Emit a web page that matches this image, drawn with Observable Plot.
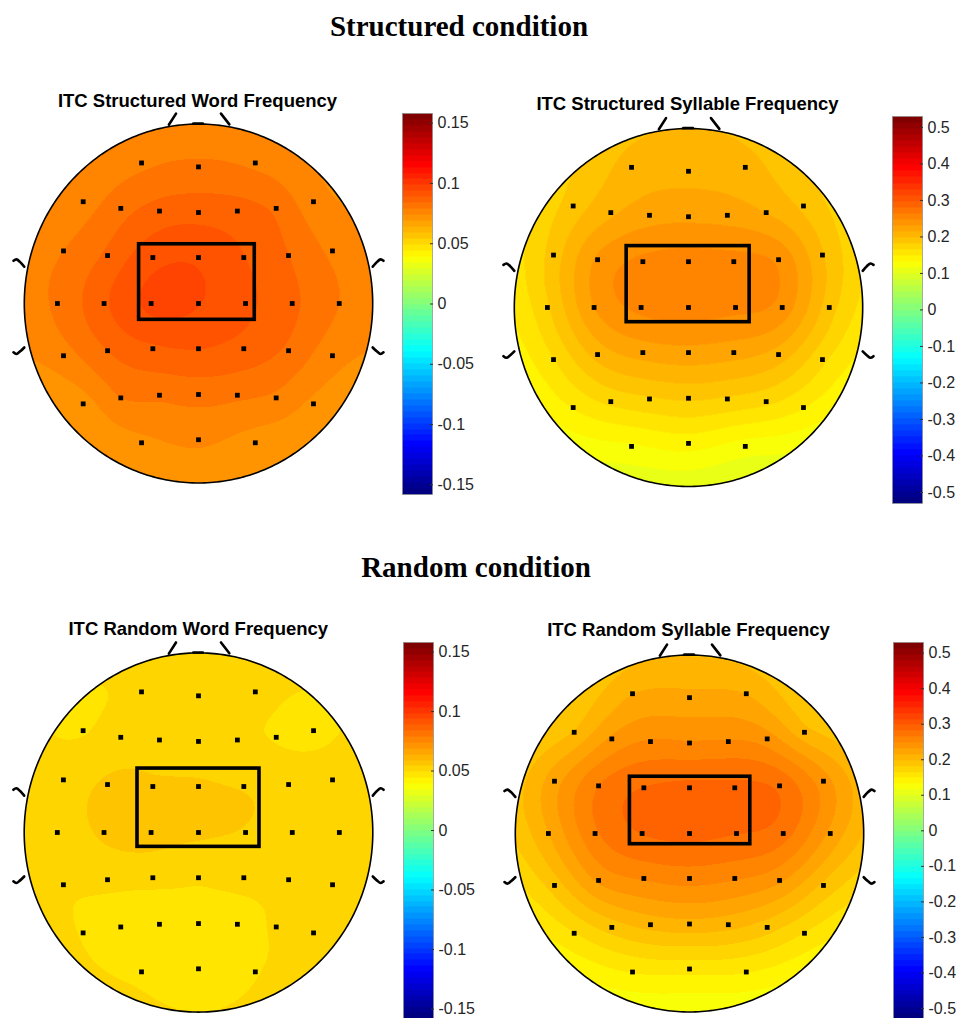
<!DOCTYPE html>
<html><head><meta charset="utf-8">
<script src="https://cdn.jsdelivr.net/npm/d3@7"></script>
<script src="https://cdn.jsdelivr.net/npm/@observablehq/plot@0.6"></script>
<style>
html,body{margin:0;padding:0;background:#fff;overflow:hidden;}
#root{position:relative;width:958px;height:1018px;overflow:hidden;background:#fff;}
.sect{position:absolute;font-family:"Liberation Serif","Times New Roman",serif;font-weight:bold;font-size:29px;line-height:29px;white-space:nowrap;transform:translateX(-50%);color:#000;}
.ptitle{position:absolute;font-family:"Liberation Sans",Arial,sans-serif;font-weight:bold;font-size:18.5px;line-height:18.5px;white-space:nowrap;transform:translateX(-50%);color:#000;}
</style></head><body><div id="root"></div>
<script>
// ---------------- DATA ----------------
const sectionTitles = ["Structured condition", "Random condition"];
const panelTitles = ["ITC Structured Word Frequency", "ITC Structured Syllable Frequency",
                     "ITC Random Word Frequency", "ITC Random Syllable Frequency"];
// electrode positions (head radius = 1, nose up)
const elecX = [
 -0.327, 0, 0.326,
 -0.662, -0.446, -0.224, 0, 0.223, 0.446, 0.660,
 -0.775, -0.522, -0.262, 0, 0.260, 0.517, 0.769,
 -0.810, -0.542, -0.272, 0, 0.270, 0.538, 0.808,
 -0.775, -0.522, -0.262, 0, 0.260, 0.517, 0.769,
 -0.662, -0.446, -0.224, 0, 0.223, 0.446, 0.660,
 -0.327, 0, 0.326];
const elecY = [
 0.783, 0.761, 0.783,
 0.567, 0.530, 0.515, 0.507, 0.515, 0.530, 0.567,
 0.293, 0.267, 0.256, 0.256, 0.256, 0.267, 0.293,
 0, 0, 0, 0, 0, 0, 0,
 -0.291, -0.263, -0.252, -0.252, -0.252, -0.263, -0.291,
 -0.559, -0.526, -0.511, -0.507, -0.511, -0.526, -0.559,
 -0.776, -0.759, -0.776];
// ITC values at electrodes (estimated from colours)
const itcStructuredWord = [
 0.078, 0.080, 0.078,
 0.077, 0.082, 0.086, 0.087, 0.086, 0.083, 0.076,
 0.079, 0.085, 0.092, 0.093, 0.089, 0.084, 0.078,
 0.080, 0.088, 0.095, 0.094, 0.090, 0.085, 0.079,
 0.077, 0.084, 0.088, 0.089, 0.087, 0.083, 0.076,
 0.072, 0.079, 0.080, 0.081, 0.080, 0.078, 0.073,
 0.073, 0.075, 0.072];
const itcStructuredSyllable = [
 0.205, 0.210, 0.205,
 0.190, 0.212, 0.225, 0.228, 0.225, 0.215, 0.195,
 0.190, 0.235, 0.252, 0.256, 0.254, 0.245, 0.200,
 0.180, 0.232, 0.252, 0.256, 0.252, 0.242, 0.190,
 0.165, 0.205, 0.222, 0.226, 0.222, 0.208, 0.170,
 0.150, 0.170, 0.180, 0.185, 0.180, 0.170, 0.150,
 0.130, 0.140, 0.125];
const itcRandomWord = [
 0.050, 0.051, 0.052,
 0.049, 0.052, 0.052, 0.051, 0.050, 0.049, 0.047,
 0.052, 0.055, 0.055, 0.055, 0.054, 0.053, 0.054,
 0.052, 0.055, 0.056, 0.055, 0.054, 0.052, 0.051,
 0.050, 0.051, 0.051, 0.050, 0.051, 0.050, 0.050,
 0.049, 0.046, 0.046, 0.048, 0.047, 0.050, 0.050,
 0.048, 0.046, 0.049];
const itcRandomSyllable = [
 0.215, 0.220, 0.215,
 0.200, 0.235, 0.250, 0.250, 0.250, 0.240, 0.205,
 0.225, 0.265, 0.282, 0.286, 0.286, 0.278, 0.240,
 0.215, 0.262, 0.282, 0.286, 0.282, 0.272, 0.228,
 0.190, 0.235, 0.250, 0.255, 0.250, 0.235, 0.195,
 0.165, 0.190, 0.205, 0.210, 0.205, 0.190, 0.165,
 0.150, 0.155, 0.150];
const panelValues = [itcStructuredWord, itcStructuredSyllable, itcRandomWord, itcRandomSyllable];
// colour limits per panel
const colorLimits = [0.158, 0.53, 0.158, 0.53];
const ticksWord = [-0.15, -0.1, -0.05, 0, 0.05, 0.1, 0.15];
const ticksSyllable = [-0.5, -0.4, -0.3, -0.2, -0.1, 0, 0.1, 0.2, 0.3, 0.4, 0.5];
const panelTicks = [ticksWord, ticksSyllable, ticksWord, ticksSyllable];
// region of interest rectangle per panel
const roiX1 = [-0.341, -0.355, -0.350, -0.342];
const roiX2 = [0.323, 0.351, 0.350, 0.349];
const roiY1 = [-0.091, -0.082, -0.080, -0.060];
const roiY2 = [0.330, 0.343, 0.356, 0.318];
// head decorations (head radius units)
const noseSegments = [
  {x: -0.129, y: 1.058, s: "l"}, {x: -0.170, y: 0.996, s: "l"},
  {x: 0.129, y: 1.058, s: "r"}, {x: 0.177, y: 0.998, s: "r"},
  {x: -0.03, y: 1.002, s: "m"}, {x: 0.025, y: 1.002, s: "m"}];
const earSegments = [
  {x: -1.062, y: 0.238, s: "lu"}, {x: -1.045, y: 0.246, s: "lu"}, {x: -1.025, y: 0.232, s: "lu"}, {x: -1.0, y: 0.205, s: "lu"},
  {x: -1.062, y: -0.272, s: "ll"}, {x: -1.045, y: -0.281, s: "ll"}, {x: -1.025, y: -0.268, s: "ll"}, {x: -1.0, y: -0.245, s: "ll"},
  {x: 1.062, y: 0.238, s: "ru"}, {x: 1.045, y: 0.246, s: "ru"}, {x: 1.025, y: 0.232, s: "ru"}, {x: 1.0, y: 0.205, s: "ru"},
  {x: 1.062, y: -0.272, s: "rl"}, {x: 1.045, y: -0.281, s: "rl"}, {x: 1.025, y: -0.268, s: "rl"}, {x: 1.0, y: -0.245, s: "rl"}];

// ---------------- LAYOUT ----------------
const panelLayout = [
  {cx: 197.5, cy: 302.8, rx: 174.2, ry: 179.5, titleBase: 107.3},
  {cx: 687.5, cy: 306.7, rx: 174.2, ry: 179.0, titleBase: 111.0},
  {cx: 198.3, cy: 832.3, rx: 174.3, ry: 179.6, titleBase: 636.0},
  {cx: 688.5, cy: 833.3, rx: 174.2, ry: 178.5, titleBase: 636.7}];
const barLayout = [
  {x: 401.7, y0: 303.15, k: 1205.7},
  {x: 891.7, y0: 309.2, k: 365},
  {x: 402.7, y0: 830.2, k: 1190},
  {x: 892.7, y0: 830.35, k: 355.3}];
const sectionLayout = [{x: 459, base: 36}, {x: 476, base: 577}];

// ---------------- HELPERS ----------------
const jet = t => {
  const c = v => Math.round(255 * Math.max(0, Math.min(1, v)));
  return `rgb(${c(1.5 - Math.abs(4 * t - 3))},${c(1.5 - Math.abs(4 * t - 2))},${c(1.5 - Math.abs(4 * t - 1))})`;
};
const jet64 = d3.range(64).map(i => jet(i / 63));
const colorOptions = m => ({type: "quantize", domain: [-m, m], range: jet64});

function solve(A, b) {
  const n = b.length;
  const M = A.map((r, i) => [...r, b[i]]);
  for (let c = 0; c < n; c++) {
    let p = c;
    for (let r = c + 1; r < n; r++) if (Math.abs(M[r][c]) > Math.abs(M[p][c])) p = r;
    [M[c], M[p]] = [M[p], M[c]];
    for (let r = c + 1; r < n; r++) {
      const f = M[r][c] / M[c][c];
      for (let k = c; k <= n; k++) M[r][k] -= f * M[c][k];
    }
  }
  const x = new Array(n).fill(0);
  for (let r = n - 1; r >= 0; r--) {
    let s = M[r][n];
    for (let k = r + 1; k < n; k++) s -= M[r][k] * x[k];
    x[r] = s / M[r][r];
  }
  return x;
}
// biharmonic spline (like griddata 'v4') restricted to the head disk
const green = r => r === 0 ? 0 : r * r * (Math.log(r) - 1);
function biharmonicHead(index, w, h, X, Y, V) {
  const px = [], py = [], pv = [];
  for (const i of index) { px.push(X[i] / w - 0.5); py.push(Y[i] / h - 0.5); pv.push(V[i]); }
  const n = px.length;
  const A = px.map((_, i) => px.map((_, j) => green(Math.hypot(px[i] - px[j], py[i] - py[j]))));
  const wts = solve(A, pv);
  const out = new Float64Array(w * h);
  for (let j = 0; j < h; j++) {
    const v = (j + 0.5) / h - 0.5;
    for (let i = 0; i < w; i++) {
      const u = (i + 0.5) / w - 0.5;
      if (u * u + v * v > 0.25) { out[j * w + i] = NaN; continue; }
      let s = 0;
      for (let k = 0; k < n; k++) s += wts[k] * green(Math.hypot(u - px[k], v - py[k]));
      out[j * w + i] = s;
    }
  }
  return out;
}
const headOutline = d3.range(0, 361, 1).map(a => ({x: Math.cos(a * Math.PI / 180), y: Math.sin(a * Math.PI / 180)}));

const root = document.getElementById("root");

sectionTitles.forEach((t, i) => {
  const d = document.createElement("div");
  d.className = "sect";
  d.textContent = t;
  d.style.left = sectionLayout[i].x + "px";
  d.style.top = (sectionLayout[i].base - 24.3) + "px";
  root.appendChild(d);
});

panelTitles.forEach((t, i) => {
  const d = document.createElement("div");
  d.className = "ptitle";
  d.textContent = t;
  d.style.left = panelLayout[i].cx + "px";
  d.style.top = (panelLayout[i].titleBase - 15.7) + "px";
  root.appendChild(d);
});

panelValues.forEach((vals, i) => {
  const L = panelLayout[i];
  const m = colorLimits[i];
  const data = elecX.map((x, k) => ({x, y: elecY[k], v: vals[k]}));
  const roi = [{x1: roiX1[i], x2: roiX2[i], y1: roiY1[i], y2: roiY2[i]}];
  const W = 394, H = 390;
  const svg = Plot.plot({
    width: W, height: H,
    marginLeft: W / 2 - L.rx, marginRight: W / 2 - L.rx,
    marginTop: H / 2 - L.ry, marginBottom: H / 2 - L.ry,
    x: {domain: [-1, 1], axis: null},
    y: {domain: [-1, 1], axis: null},
    color: colorOptions(m),
    style: {background: "transparent", overflow: "visible", position: "absolute",
            left: (L.cx - W / 2) + "px", top: (L.cy - H / 2) + "px"},
    marks: [
      Plot.raster(data, {x: "x", y: "y", fill: "v", x1: -1, x2: 1, y1: -1, y2: 1, interpolate: biharmonicHead}),
      Plot.line(noseSegments, {x: "x", y: "y", z: "s", stroke: "black", strokeWidth: 2.6}),
      Plot.line(earSegments, {x: "x", y: "y", z: "s", stroke: "black", strokeWidth: 2.6, curve: "catmull-rom"}),
      Plot.line(headOutline, {x: "x", y: "y", stroke: "black", strokeWidth: 1.6}),
      Plot.rect(roi, {x1: "x1", x2: "x2", y1: "y1", y2: "y2", fill: "none", stroke: "black", strokeWidth: 3.6}),
      Plot.dot(data, {x: "x", y: "y", symbol: "square", r: 2.7, fill: "black", stroke: null})
    ]
  });
  root.appendChild(svg);
});

panelValues.forEach((_, i) => {
  const B = barLayout[i];
  const m = colorLimits[i];
  const barH = 2 * m * B.k;
  const mt = 12, mb = 12, ml = 1, mr = 70, bw = 30;
  const svg = Plot.plot({
    width: ml + bw + mr, height: barH + mt + mb,
    marginLeft: ml, marginRight: mr, marginTop: mt, marginBottom: mb,
    x: {domain: [0, 1], axis: null},
    y: {domain: [-m, m], axis: null},
    color: colorOptions(m),
    style: {background: "transparent", overflow: "visible", position: "absolute",
            left: (B.x - ml) + "px", top: (B.y0 - m * B.k - mt) + "px",
            fontFamily: "'Liberation Sans', Arial, sans-serif", fontSize: "16px", color: "#262626"},
    marks: [
      Plot.raster({fill: (x, y) => y, x1: 0, x2: 1, y1: -m, y2: m}),
      Plot.frame({stroke: "#8c8c8c", strokeWidth: 0.7}),
      Plot.axisY(panelTicks[i], {anchor: "right", tickSize: 3, dx: -3, tickFormat: () => "", label: null, stroke: "#333"}),
      Plot.axisY(panelTicks[i], {anchor: "right", tickSize: 0, tickPadding: 5, tickFormat: d => String(d), label: null})
    ]
  });
  root.appendChild(svg);
});
</script></body></html>
